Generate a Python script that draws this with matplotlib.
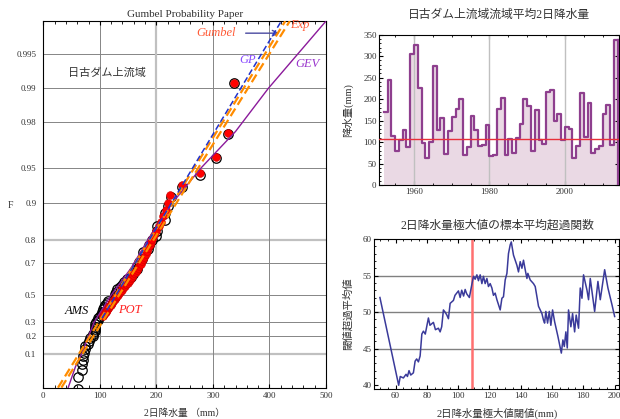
import numpy as np
import matplotlib.pyplot as plt
from matplotlib.ticker import MultipleLocator, NullLocator

plt.rcParams['font.family'] = ['Liberation Serif', 'Noto Sans CJK JP']
plt.rcParams['axes.unicode_minus'] = False

# annual maximum 2-day rainfall (mm), 1952-2013
years = list(range(1952, 2014))
ams = [170, 245, 115, 80, 105, 127, 88, 305, 327, 225,
       97, 62, 100, 278, 128, 155, 72, 125, 158, 177,
       200, 70, 88, 160, 127, 91, 94, 139, 68, 71,
       176, 202, 69, 107, 74, 109, 142, 201, 185, 79,
       174, 104, 96, 216, 221, 148, 166, 104, 136, 131,
       62, 91, 215, 112, 192, 74, 83, 91, 166, 187,
       92, 338]
threshold = 108

# peaks over threshold sample (mm)
pot = [105, 106, 107, 108, 109, 111, 111, 112, 113, 114,
       115, 116, 117, 119, 120, 121, 122, 124, 125, 126,
       127, 129, 130, 132, 134, 135, 137, 139, 140, 142,
       145, 147, 149, 151, 153, 155, 157, 159, 161, 164,
       166, 168, 170, 173, 175, 177, 179, 181, 183, 185,
       188, 190, 193, 196, 200, 204, 208, 212, 217, 221,
       224, 245, 278, 305, 327, 338]

# fitted distributions (x in mm, F)
gumbel_x = [26, 428]
gumbel_F = [0.0099, 0.99747]
exp_x = [32, 436]
exp_F = [0.0099, 0.99747]
gp_x = [104, 421]
gp_F = [0.33, 0.99747]
gev_x = [44, 57, 68, 90, 120, 155, 185, 228, 279, 340, 398, 500]
gev_F = [0.0099, 0.05, 0.1, 0.3, 0.5, 0.67, 0.8, 0.9, 0.95, 0.976, 0.99, 0.99747]

# sample mean excess function
me_u = [50, 62, 63, 65, 66.7, 67.6, 68.6, 69.7, 71.4, 72.5, 73.5, 74.6, 75.7, 76.8,
        77.8, 79, 81, 82, 84.2, 85.5, 87.4, 88.5, 89.5, 90.6, 91.7, 92.8, 93.8, 94.9,
        97, 98, 100.2, 101.3, 102.3, 103.5, 104.5, 105.5, 107.2, 108.7, 109.8, 110.9,
        112, 113, 114.1, 115.2, 116.2, 117.3, 118.4, 119.4, 120.5, 121.6, 122.6, 123.7,
        124.8, 126.9, 128, 129, 130.1, 131.2, 132.2, 133.3, 134, 135.4, 137.6, 138.6,
        139.7, 140.8, 141.8, 142.9, 144, 144.6, 146.1, 148.2, 149.3, 150.4, 151.4,
        153.6, 154.6, 155.3, 156.1, 157.2, 158.3, 159.3, 160.4, 161.7, 163.8, 166,
        167, 167.9, 168.9, 169.8, 170.6, 172.1, 173.2, 174.5, 175.5, 177, 178.1,
        179.2, 180.2, 182.4, 183.4, 184.5, 187.3, 189.4, 190.9, 193.7, 195.8, 198.4,
        200.1]
me_val = [52.0, 40.0, 41.2, 41.0, 41.5, 41.2, 42.0, 41.4, 41.7, 43.3, 43.6, 43.2, 44.0, 47.0,
          47.4, 47.0, 49.2, 48.2, 48.6, 47.6, 47.8, 47.3, 48.0, 50.3, 50.0, 49.6, 49.1, 51.2,
          51.6, 52.3, 52.9, 52.0, 53.0, 52.2, 53.1, 52.5, 52.0, 53.7, 54.9, 54.5,
          55.1, 54.3, 55.1, 53.9, 54.9, 53.9, 54.6, 53.5, 53.9, 53.3, 52.3, 52.6,
          51.7, 50.3, 51.9, 52.1, 54.4, 55.3, 58.0, 59.2, 59.6, 57.8, 56.4, 55.5,
          56.9, 56.0, 57.1, 55.8, 54.6, 55.3, 54.4, 53.9, 53.5, 52.1, 50.8,
          49.8, 48.9, 48.5, 50.1, 48.5, 50.1, 48.2, 50.3, 48.7, 46.7, 44.4,
          46.2, 45.3, 47.3, 45.1, 50.3, 48.0, 49.8, 47.3, 49.6, 47.8, 53.3,
          51.9, 55.1, 53.0, 51.7, 54.6, 50.1, 54.2, 51.7, 55.8, 53.3, 51.0,
          49.4]

F_ticks = [0.1, 0.2, 0.3, 0.5, 0.7, 0.8, 0.9, 0.95, 0.98, 0.99, 0.995]
light_F = [0.1, 0.8]


def gumbel_fwd(F):
    F = np.clip(F, 1e-12, 1 - 1e-12)
    return -np.log(-np.log(F))


def gumbel_inv(y):
    return np.exp(-np.exp(-y))


fig = plt.figure(figsize=(6.2, 4.19), dpi=100)
tick_fs = 6.5
txt_col = '#333333'

# ---------------- Gumbel probability paper ----------------
ax1 = fig.add_axes([0.0698, 0.0747, 0.456, 0.875])
ax1.set_yscale('function', functions=(gumbel_fwd, gumbel_inv))
ax1.set_xlim(0, 500)
ax1.set_ylim(0.0099, 0.99747)

for F in F_ticks:
    if F in light_F:
        ax1.axhline(F, color='#c0c0c0', lw=1.6, zorder=0)
    else:
        ax1.axhline(F, color='#858585', lw=0.7, zorder=0)
for xv in [100, 200, 300, 400]:
    if xv == 200:
        ax1.axvline(xv, color='#c0c0c0', lw=1.6, zorder=0)
    else:
        ax1.axvline(xv, color='#858585', lw=0.7, zorder=0)

n = len(ams)
ams_s = np.sort(ams)
F_ams = (np.arange(1, n + 1) - 0.44) / (n + 0.12)
k = len(pot)
pot_s = np.sort(pot)
F_pot = np.exp(-(k / n) * (1 - (np.arange(1, k + 1) - 0.44) / (k + 0.12)))

ax1.plot(ams_s, F_ams, 'o', ms=6.8, mfc='none', mec='black', mew=0.9, zorder=3)
ax1.plot(pot_s, F_pot, 'o', ms=5.6, mfc='#ff0000', mec='#cc0000', mew=0.4, zorder=4)

ax1.plot(gev_x, gev_F, color='#8b1a9b', lw=1.0, zorder=5)
ax1.plot(gumbel_x, gumbel_F, color='#ff8c00', lw=1.6, dashes=(4, 2), zorder=5)
ax1.plot(exp_x, exp_F, color='#ff8c00', lw=1.6, dashes=(4, 2), zorder=5)
ax1.plot(gp_x, gp_F, color='#2233cc', lw=1.1, dashes=(4, 2), zorder=6)

ax1.set_yticks(F_ticks)
ax1.set_yticklabels([str(f) for f in F_ticks])
ax1.yaxis.set_minor_locator(NullLocator())
ax1.xaxis.set_major_locator(MultipleLocator(100))
ax1.xaxis.set_minor_locator(MultipleLocator(20))
ax1.tick_params(direction='in', labelsize=tick_fs, top=True, length=3, pad=3,
                labelcolor=txt_col)
ax1.tick_params(which='minor', direction='in', top=True, length=2)
ax1.tick_params(axis='y', length=0, pad=5)
ax1.set_title('Gumbel Probability Paper', fontsize=8, pad=3, color=txt_col)

ax1.text(0.611, 0.967, 'Gumbel', transform=ax1.transAxes, color='#ff5a36',
         style='italic', fontsize=9, ha='center', va='center')
ax1.text(0.908, 0.990, 'Exp', transform=ax1.transAxes, color='#ff5a36',
         style='italic', fontsize=9, ha='center', va='center')
ax1.text(0.724, 0.894, 'GP', transform=ax1.transAxes, color='#8a4bff',
         style='italic', fontsize=9, ha='center', va='center')
ax1.text(0.936, 0.883, 'GEV', transform=ax1.transAxes, color='#9933cc',
         style='italic', fontsize=9, ha='center', va='center')
ax1.text(0.225, 0.858, '日古ダム上流域', transform=ax1.transAxes, color=txt_col,
         fontsize=8, ha='center', va='center')
ax1.text(0.117, 0.209, 'AMS', transform=ax1.transAxes, color='black',
         style='italic', fontsize=9, ha='center', va='center')
ax1.text(0.307, 0.212, 'POT', transform=ax1.transAxes, color='#ff2020',
         style='italic', fontsize=9, ha='center', va='center')
ax1.annotate('', xy=(0.845, 0.967), xytext=(0.706, 0.967),
             xycoords='axes fraction', textcoords='axes fraction',
             arrowprops=dict(arrowstyle='->', color='#4a4aa0', lw=1.0))

fig.text(10 / 620, 1 - 205 / 419, 'F', fontsize=7, ha='center', va='center',
         color=txt_col)
fig.text(185 / 620, 1 - 413 / 419, '2日降水量 （mm）', fontsize=7,
         ha='center', va='center', color=txt_col)

# ---------------- annual series ----------------
ax2 = fig.add_axes([0.6118, 0.5585, 0.387, 0.3587])
x_edges = years + [years[-1] + 1]
y_steps = ams + [ams[-1]]
ax2.fill_between(x_edges, y_steps, step='post', color='#ead9e4', lw=0, zorder=1)
ax2.step(x_edges, y_steps, where='post', color='#8e3f8e', lw=1.6, zorder=3)
ax2.plot([x_edges[-1], x_edges[-1]], [ams[-1], 0], color='#8e3f8e', lw=1.6, zorder=3)
ax2.axhline(threshold, color='#e8303a', lw=1.0, zorder=4)
for yr in [1960, 1980, 2000]:
    ax2.axvline(yr, color='#c0c0c0', lw=1.0, zorder=2)
ax2.set_xlim(1950.8, 2014.4)
ax2.set_ylim(0, 350)
ax2.xaxis.set_major_locator(MultipleLocator(20))
ax2.xaxis.set_minor_locator(MultipleLocator(5))
ax2.yaxis.set_major_locator(MultipleLocator(50))
ax2.yaxis.set_minor_locator(MultipleLocator(10))
ax2.tick_params(direction='in', labelsize=tick_fs, top=True, right=True, length=3, pad=2,
                labelcolor=txt_col)
ax2.tick_params(which='minor', direction='in', top=True, right=True, length=1.5)
fig.text(499 / 620, 1 - 15 / 419, '日古ダム上流域流域平均2日降水量', fontsize=8.5,
         ha='center', va='center', color=txt_col)
fig.text(348 / 620, 1 - 110 / 419, '降水量(mm)', fontsize=7.5, rotation=90,
         ha='center', va='center', color=txt_col)

# ---------------- mean excess function ----------------
ax3 = fig.add_axes([0.6037, 0.0709, 0.395, 0.3587])
for yv in [45, 50, 55]:
    ax3.axhline(yv, color='#808080', lw=1.0, zorder=0)
ax3.axvline(threshold + 1, color='#ff7070', lw=1.8, zorder=1)
ax3.plot(me_u, me_val, color='#3a3a9a', lw=1.1, zorder=3)
ax3.set_xlim(46.4, 203)
ax3.set_ylim(39.45, 60)
ax3.xaxis.set_major_locator(MultipleLocator(20))
ax3.xaxis.set_minor_locator(MultipleLocator(5))
ax3.yaxis.set_major_locator(MultipleLocator(5))
ax3.yaxis.set_minor_locator(MultipleLocator(1))
ax3.tick_params(direction='in', labelsize=tick_fs, top=True, right=True, length=3, pad=2,
                labelcolor=txt_col)
ax3.tick_params(which='minor', direction='in', top=True, right=True, length=1.5)
fig.text(497 / 620, 1 - 226 / 419, '2日降水量極大値の標本平均超過関数', fontsize=8.5,
         ha='center', va='center', color=txt_col)
fig.text(348 / 620, 1 - 314 / 419, '閾値超過平均値', fontsize=7.5, rotation=90,
         ha='center', va='center', color=txt_col)
fig.text(497 / 620, 1 - 413 / 419, '2日降水量極大値閾値(mm)', fontsize=7.5,
         ha='center', va='center', color=txt_col)

fig.savefig('out.png', dpi=100)
